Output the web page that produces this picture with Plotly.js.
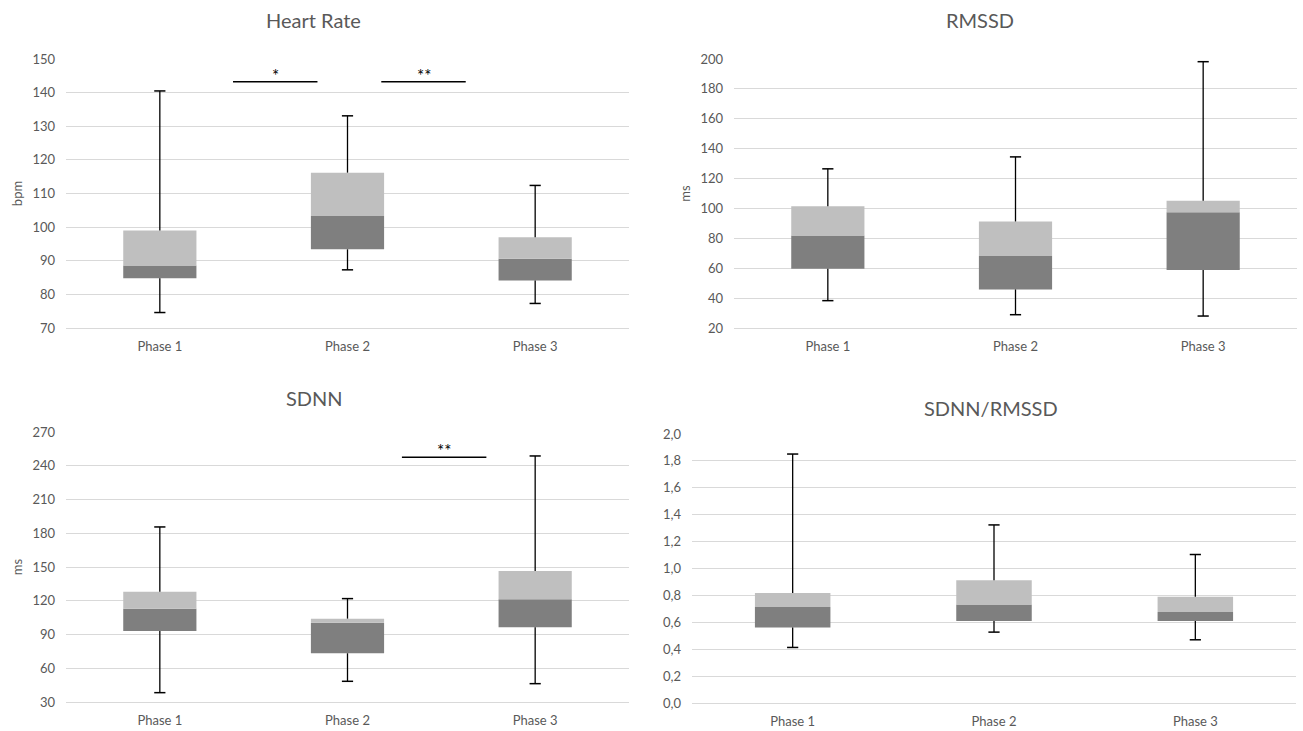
<!DOCTYPE html>
<html>
<head>
<meta charset="utf-8">
<script src="https://cdn.plot.ly/plotly-3.0.1.min.js"></script>
<style>html,body{margin:0;padding:0;background:#fff;}#chart{width:1303px;height:731px;}</style>
</head>
<body>
<div id="chart"></div>
<script>
// ---- data ----
const phases = ['Phase 1', 'Phase 2', 'Phase 3'];

const hrMin = [74.6, 87.3, 77.3];
const hrQ1  = [84.8, 93.4, 84.1];
const hrMed = [88.6, 103.3, 90.6];
const hrQ3  = [99.0, 116.2, 97.0];
const hrMax = [140.5, 133.1, 112.4];

const rmMin = [38.3, 28.9, 28.0];
const rmQ1  = [59.7, 45.8, 58.8];
const rmMed = [81.9, 68.1, 97.5];
const rmQ3  = [101.5, 91.3, 105.1];
const rmMax = [126.5, 134.5, 198.2];

const sdMin = [38.3, 48.4, 46.3];
const sdQ1  = [93.1, 73.3, 96.4];
const sdMed = [113.0, 100.5, 121.3];
const sdQ3  = [128.1, 104.1, 146.4];
const sdMax = [185.6, 121.9, 248.7];

const raMin = [0.413, 0.527, 0.470];
const raQ1  = [0.562, 0.609, 0.609];
const raMed = [0.713, 0.733, 0.676];
const raQ3  = [0.817, 0.913, 0.790];
const raMax = [1.851, 1.324, 1.104];

// significance brackets: start/end (category index), level, label
const hrSigFrom = [0.39, 1.18];
const hrSigTo   = [0.84, 1.63];
const hrSigY    = [143.2, 143.2];
const hrSigText = ['*', '**'];

const sdSigFrom = [1.29];
const sdSigTo   = [1.74];
const sdSigY    = [247.5];
const sdSigText = ['**'];

const titles = ['Heart Rate', 'RMSSD', 'SDNN', 'SDNN/RMSSD'];
const yTitles = ['bpm', 'ms', 'ms', ''];

// ---- styling ----
const DARK = '#7f7f7f', LIGHT = '#bfbfbf', GRID = '#d9d9d9', TXT = '#595959';
const FONT = 'Lato, "Open Sans", sans-serif';

const traces = [];
function addBox(mn, q1, md, q3, mx, xa, ya, w) {
  traces.push({
    type: 'bar', x: phases, y: md.map((v, i) => v - q1[i]), base: q1,
    width: w, marker: {color: DARK, line: {width: 0}}, xaxis: xa, yaxis: ya,
    hoverinfo: 'skip', showlegend: false
  });
  traces.push({
    type: 'bar', x: phases, y: q3.map((v, i) => v - md[i]), base: md,
    width: w, marker: {color: LIGHT, line: {width: 0}}, xaxis: xa, yaxis: ya,
    hoverinfo: 'skip', showlegend: false
  });
  const wx = [], wy = [];
  phases.forEach((p, i) => {
    wx.push(p, p, null, p, p, null);
    wy.push(q3[i], mx[i], null, q1[i], mn[i], null);
  });
  traces.push({
    type: 'scatter', mode: 'lines', x: wx, y: wy, xaxis: xa, yaxis: ya,
    line: {color: '#000000', width: 1.3}, hoverinfo: 'skip', showlegend: false
  });
  traces.push({
    type: 'scatter', mode: 'markers', x: phases.concat(phases), y: mx.concat(mn),
    xaxis: xa, yaxis: ya,
    marker: {symbol: 'line-ew', size: 8, color: '#000000', line: {color: '#000000', width: 1.5}},
    hoverinfo: 'skip', showlegend: false
  });
}
addBox(hrMin, hrQ1, hrMed, hrQ3, hrMax, 'x', 'y', 0.39);
addBox(rmMin, rmQ1, rmMed, rmQ3, rmMax, 'x2', 'y2', 0.39);
addBox(sdMin, sdQ1, sdMed, sdQ3, sdMax, 'x3', 'y3', 0.39);
addBox(raMin, raQ1, raMed, raQ3, raMax, 'x4', 'y4', 0.375);

const W = 1303, H = 731;
function px(a) { return a / W; }
function py(b) { return 1 - b / H; }

function xAxis(l, r, anchor) {
  return {
    domain: [px(l), px(r)], anchor: anchor, type: 'category',
    range: [-0.5, 2.5], showgrid: false, zeroline: false,
    showline: true, linecolor: GRID, linewidth: 1, ticks: '',
    tickfont: {family: FONT, size: 13, color: TXT}, ticklabelstandoff: 6,
    fixedrange: true
  };
}
function yAxis(t, b, anchor, r0, r1, dt, fmt, title) {
  return {
    domain: [py(b), py(t)], anchor: anchor, range: [r0, r1], dtick: dt, tick0: r0,
    tickformat: fmt, showgrid: true, gridcolor: GRID, gridwidth: 1, zeroline: false,
    showline: false, ticks: '', ticklabelstandoff: 10,
    tickfont: {family: FONT, size: 13, color: TXT},
    title: {text: title, font: {family: FONT, size: 13, color: TXT}, standoff: 6},
    fixedrange: true
  };
}

const shapes = [], annotations = [];
function addSig(from, to, yv, txt, xr, yr) {
  from.forEach((f, i) => {
    shapes.push({type: 'line', xref: xr, yref: yr, x0: f, x1: to[i], y0: yv[i], y1: yv[i],
      line: {color: '#000000', width: 1.5}});
    annotations.push({xref: xr, yref: yr, x: (f + to[i]) / 2, y: yv[i], text: txt[i],
      showarrow: false, yanchor: 'bottom', yshift: -6,
      font: {family: FONT, size: 17, color: '#000000'}});
  });
}
addSig(hrSigFrom, hrSigTo, hrSigY, hrSigText, 'x', 'y');
addSig(sdSigFrom, sdSigTo, sdSigY, sdSigText, 'x3', 'y3');

const titlePos = [[313, 20], [980, 20], [314, 398], [991, 408]];
titles.forEach((t, i) => {
  annotations.push({xref: 'paper', yref: 'paper', x: px(titlePos[i][0]), y: py(titlePos[i][1]),
    xanchor: 'center', yanchor: 'middle', text: t, showarrow: false,
    font: {family: FONT, size: 20, color: TXT}});
});

const layout = {
  width: W, height: H, margin: {l: 0, r: 0, t: 0, b: 0},
  paper_bgcolor: '#ffffff', plot_bgcolor: '#ffffff',
  barmode: 'overlay', separators: ',.', showlegend: false,
  font: {family: FONT, color: TXT},
  xaxis: xAxis(66, 629, 'y'),
  yaxis: yAxis(59, 328, 'x', 70, 150, 10, 'd', yTitles[0]),
  xaxis2: xAxis(734, 1297, 'y2'),
  yaxis2: yAxis(59, 328, 'x2', 20, 200, 20, 'd', yTitles[1]),
  xaxis3: xAxis(66, 629, 'y3'),
  yaxis3: yAxis(432, 702, 'x3', 30, 270, 30, 'd', yTitles[2]),
  xaxis4: xAxis(692, 1296, 'y4'),
  yaxis4: yAxis(434, 703, 'x4', 0, 2.0, 0.2, '.1f', yTitles[3]),
  shapes: shapes, annotations: annotations
};

Plotly.newPlot('chart', traces, layout, {displayModeBar: false, staticPlot: true});
</script>
</body>
</html>
